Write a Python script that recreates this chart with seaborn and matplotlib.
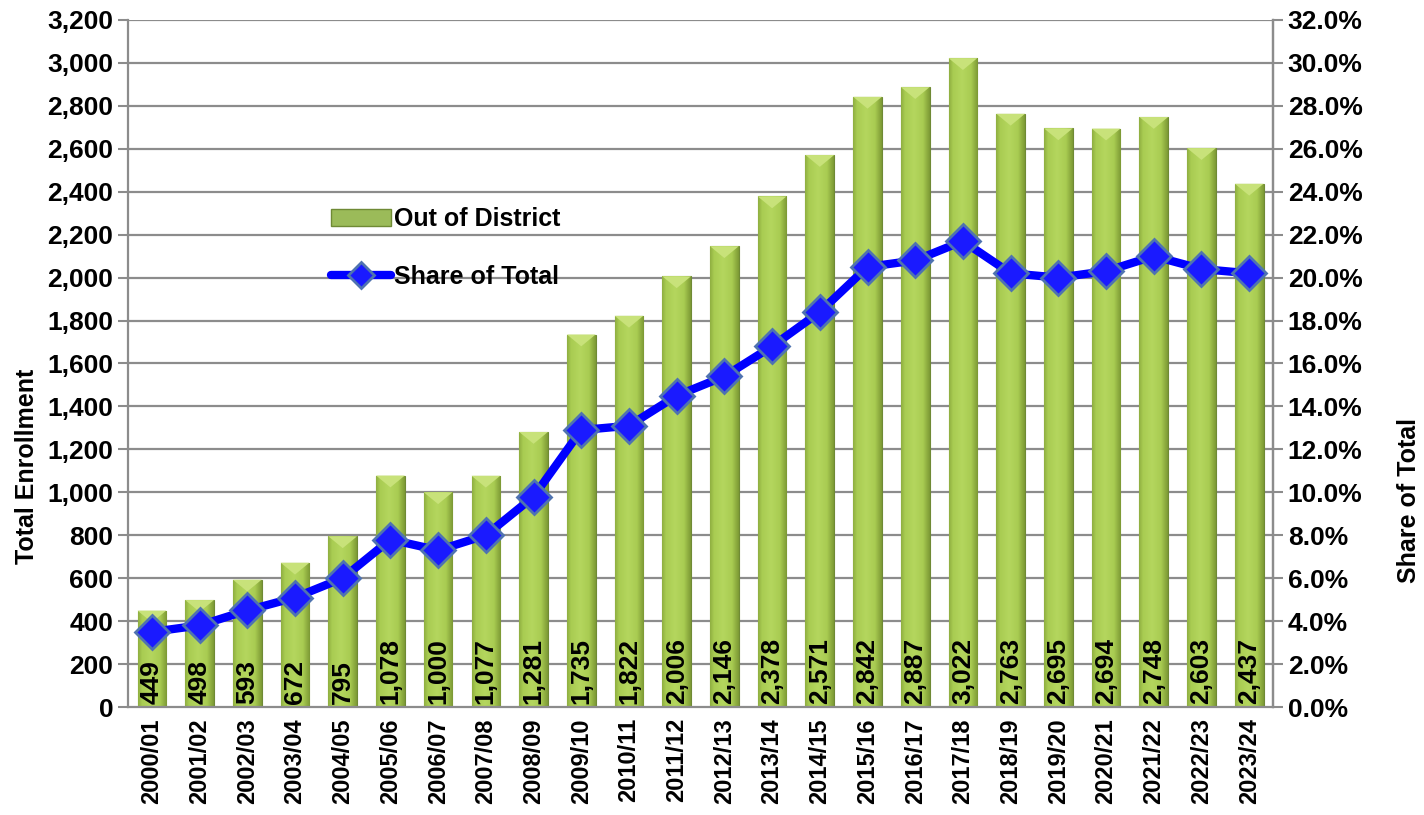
import numpy as np
import matplotlib
matplotlib.use("Agg")
import matplotlib.pyplot as plt
from matplotlib.ticker import FuncFormatter, MultipleLocator, FixedLocator
from matplotlib.lines import Line2D
from matplotlib.patches import Patch
import pandas as pd
import seaborn as sns

years = ['2000/01', '2001/02', '2002/03', '2003/04', '2004/05', '2005/06',
         '2006/07', '2007/08', '2008/09', '2009/10', '2010/11', '2011/12',
         '2012/13', '2013/14', '2014/15', '2015/16', '2016/17', '2017/18',
         '2018/19', '2019/20', '2020/21', '2021/22', '2022/23', '2023/24']
out_of_district = [449, 498, 593, 672, 795, 1078, 1000, 1077, 1281, 1735,
                   1822, 2006, 2146, 2378, 2571, 2842, 2887, 3022, 2763,
                   2695, 2694, 2748, 2603, 2437]
share_of_total = [3.5, 3.8, 4.5, 5.1, 6.0, 7.8, 7.3, 8.0, 9.8, 12.9,
                  13.1, 14.5, 15.4, 16.8, 18.4, 20.5, 20.8, 21.7, 20.2,
                  20.0, 20.3, 21.0, 20.4, 20.2]

sns.set_style("white")
plt.rcParams['font.family'] = ['Liberation Sans', 'DejaVu Sans']
plt.rcParams['font.weight'] = 'bold'
for k in ['text.color', 'axes.labelcolor', 'xtick.labelcolor', 'ytick.labelcolor']:
    plt.rcParams[k] = 'black'

df = pd.DataFrame({'year': years, 'students': out_of_district, 'share': share_of_total})

fig = plt.figure(figsize=(14.24, 8.15), dpi=100)
ax = fig.add_axes([0.0899, 0.1325, 0.8041, 0.843])

gridc = '#8c8c8c'
for v in range(200, 3201, 200):
    ax.axhline(v, color=gridc, lw=1.6, zorder=0)

sns.barplot(data=df, x='year', y='students', ax=ax, color='#9BBB59', width=0.6,
            edgecolor='#6f8a35', linewidth=0.8, zorder=2)

# horizontal gradient in every bar, darker at the sides
grad = np.linspace(0, 1, 64)
prof = 1 - np.abs(grad - 0.45) * 1.6
cmap = matplotlib.colors.LinearSegmentedColormap.from_list(
    'bar', ['#6f8a2c', '#a9cc52', '#b4d65e'])
for p in ax.patches:
    x0, y0 = p.get_x(), p.get_y()
    w, h = p.get_width(), p.get_height()
    im = ax.imshow(prof[np.newaxis, :], cmap=cmap, aspect='auto',
                   extent=[x0, x0 + w, y0, y0 + h], zorder=2.5, vmin=0, vmax=1)
    im.set_clip_path(p)
    # small bevel at top
    ax.fill([x0, x0 + w, x0 + w / 2], [y0 + h, y0 + h, y0 + h - 55],
            color='#c8e27a', zorder=2.6, lw=0)

for i, v in enumerate(out_of_district):
    ax.text(i, 12, f'{v:,}', rotation=90, ha='center', va='bottom',
            fontsize=19, fontweight='bold', color='black', zorder=5)

ax.set_xlim(-0.5, len(years) - 0.5)
ax.set_ylim(0, 3200)
ax.yaxis.set_major_locator(MultipleLocator(200))
ax.yaxis.set_major_formatter(FuncFormatter(lambda v, p: f'{int(v):,}'))
ax.set_xlabel('')
ax.set_ylabel('Total Enrollment', fontsize=18, fontweight='bold')
ax.yaxis.set_label_coords(-0.078, 0.35)
ax.set_xticks(range(len(years)))
ax.set_xticklabels(years, rotation=90, fontsize=17, fontweight='bold')
ax.xaxis.set_minor_locator(FixedLocator(np.arange(-0.5, len(years), 1)))
ax.tick_params(axis='x', which='major', length=0, pad=8)
ax.tick_params(axis='x', which='minor', length=7, color=gridc, width=1.5, direction='out')
ax.tick_params(axis='y', length=7, color=gridc, width=1.5, direction='out', labelsize=19)
for lab in ax.get_yticklabels():
    lab.set_fontweight('bold')

ax.spines['top'].set_visible(False)
for s in ['left', 'right', 'bottom']:
    ax.spines[s].set_color(gridc)
    ax.spines[s].set_linewidth(1.6)

ax2 = ax.twinx()
sns.lineplot(x=np.arange(len(years)), y=share_of_total, ax=ax2, color='#0000ff',
             lw=6, marker='D', markersize=17, markerfacecolor='#1a1aff',
             markeredgecolor='#4f73b0', markeredgewidth=2, zorder=6)
ax2.set_ylim(0, 32)
ax2.yaxis.set_major_locator(MultipleLocator(2))
ax2.yaxis.set_major_formatter(FuncFormatter(lambda v, p: f'{v:.1f}%'))
ax2.set_ylabel('Share of Total', fontsize=18, fontweight='bold')
ax2.yaxis.set_label_coords(1.108, 0.3)
ax2.tick_params(axis='y', length=7, color=gridc, width=1.5, direction='out', labelsize=19)
for lab in ax2.get_yticklabels():
    lab.set_fontweight('bold')
for s in ['top', 'left', 'bottom']:
    ax2.spines[s].set_visible(False)
ax2.spines['right'].set_color(gridc)
ax2.spines['right'].set_linewidth(1.6)

handles = [Patch(facecolor='#9BBB59', edgecolor='#6f8a35', label='Out of District'),
           Line2D([0], [0], color='#0000ff', lw=6, marker='D', markersize=13,
                  markerfacecolor='#1a1aff', markeredgecolor='#4f73b0',
                  markeredgewidth=2, label='Share of Total')]
ax2.legend(handles=handles, loc='upper left', bbox_to_anchor=(0.158, 0.76),
           frameon=False, handlelength=2.4, handletextpad=0.1,
           labelspacing=1.35, prop={'weight': 'bold', 'size': 18})

fig.savefig('out.png', dpi=100)
